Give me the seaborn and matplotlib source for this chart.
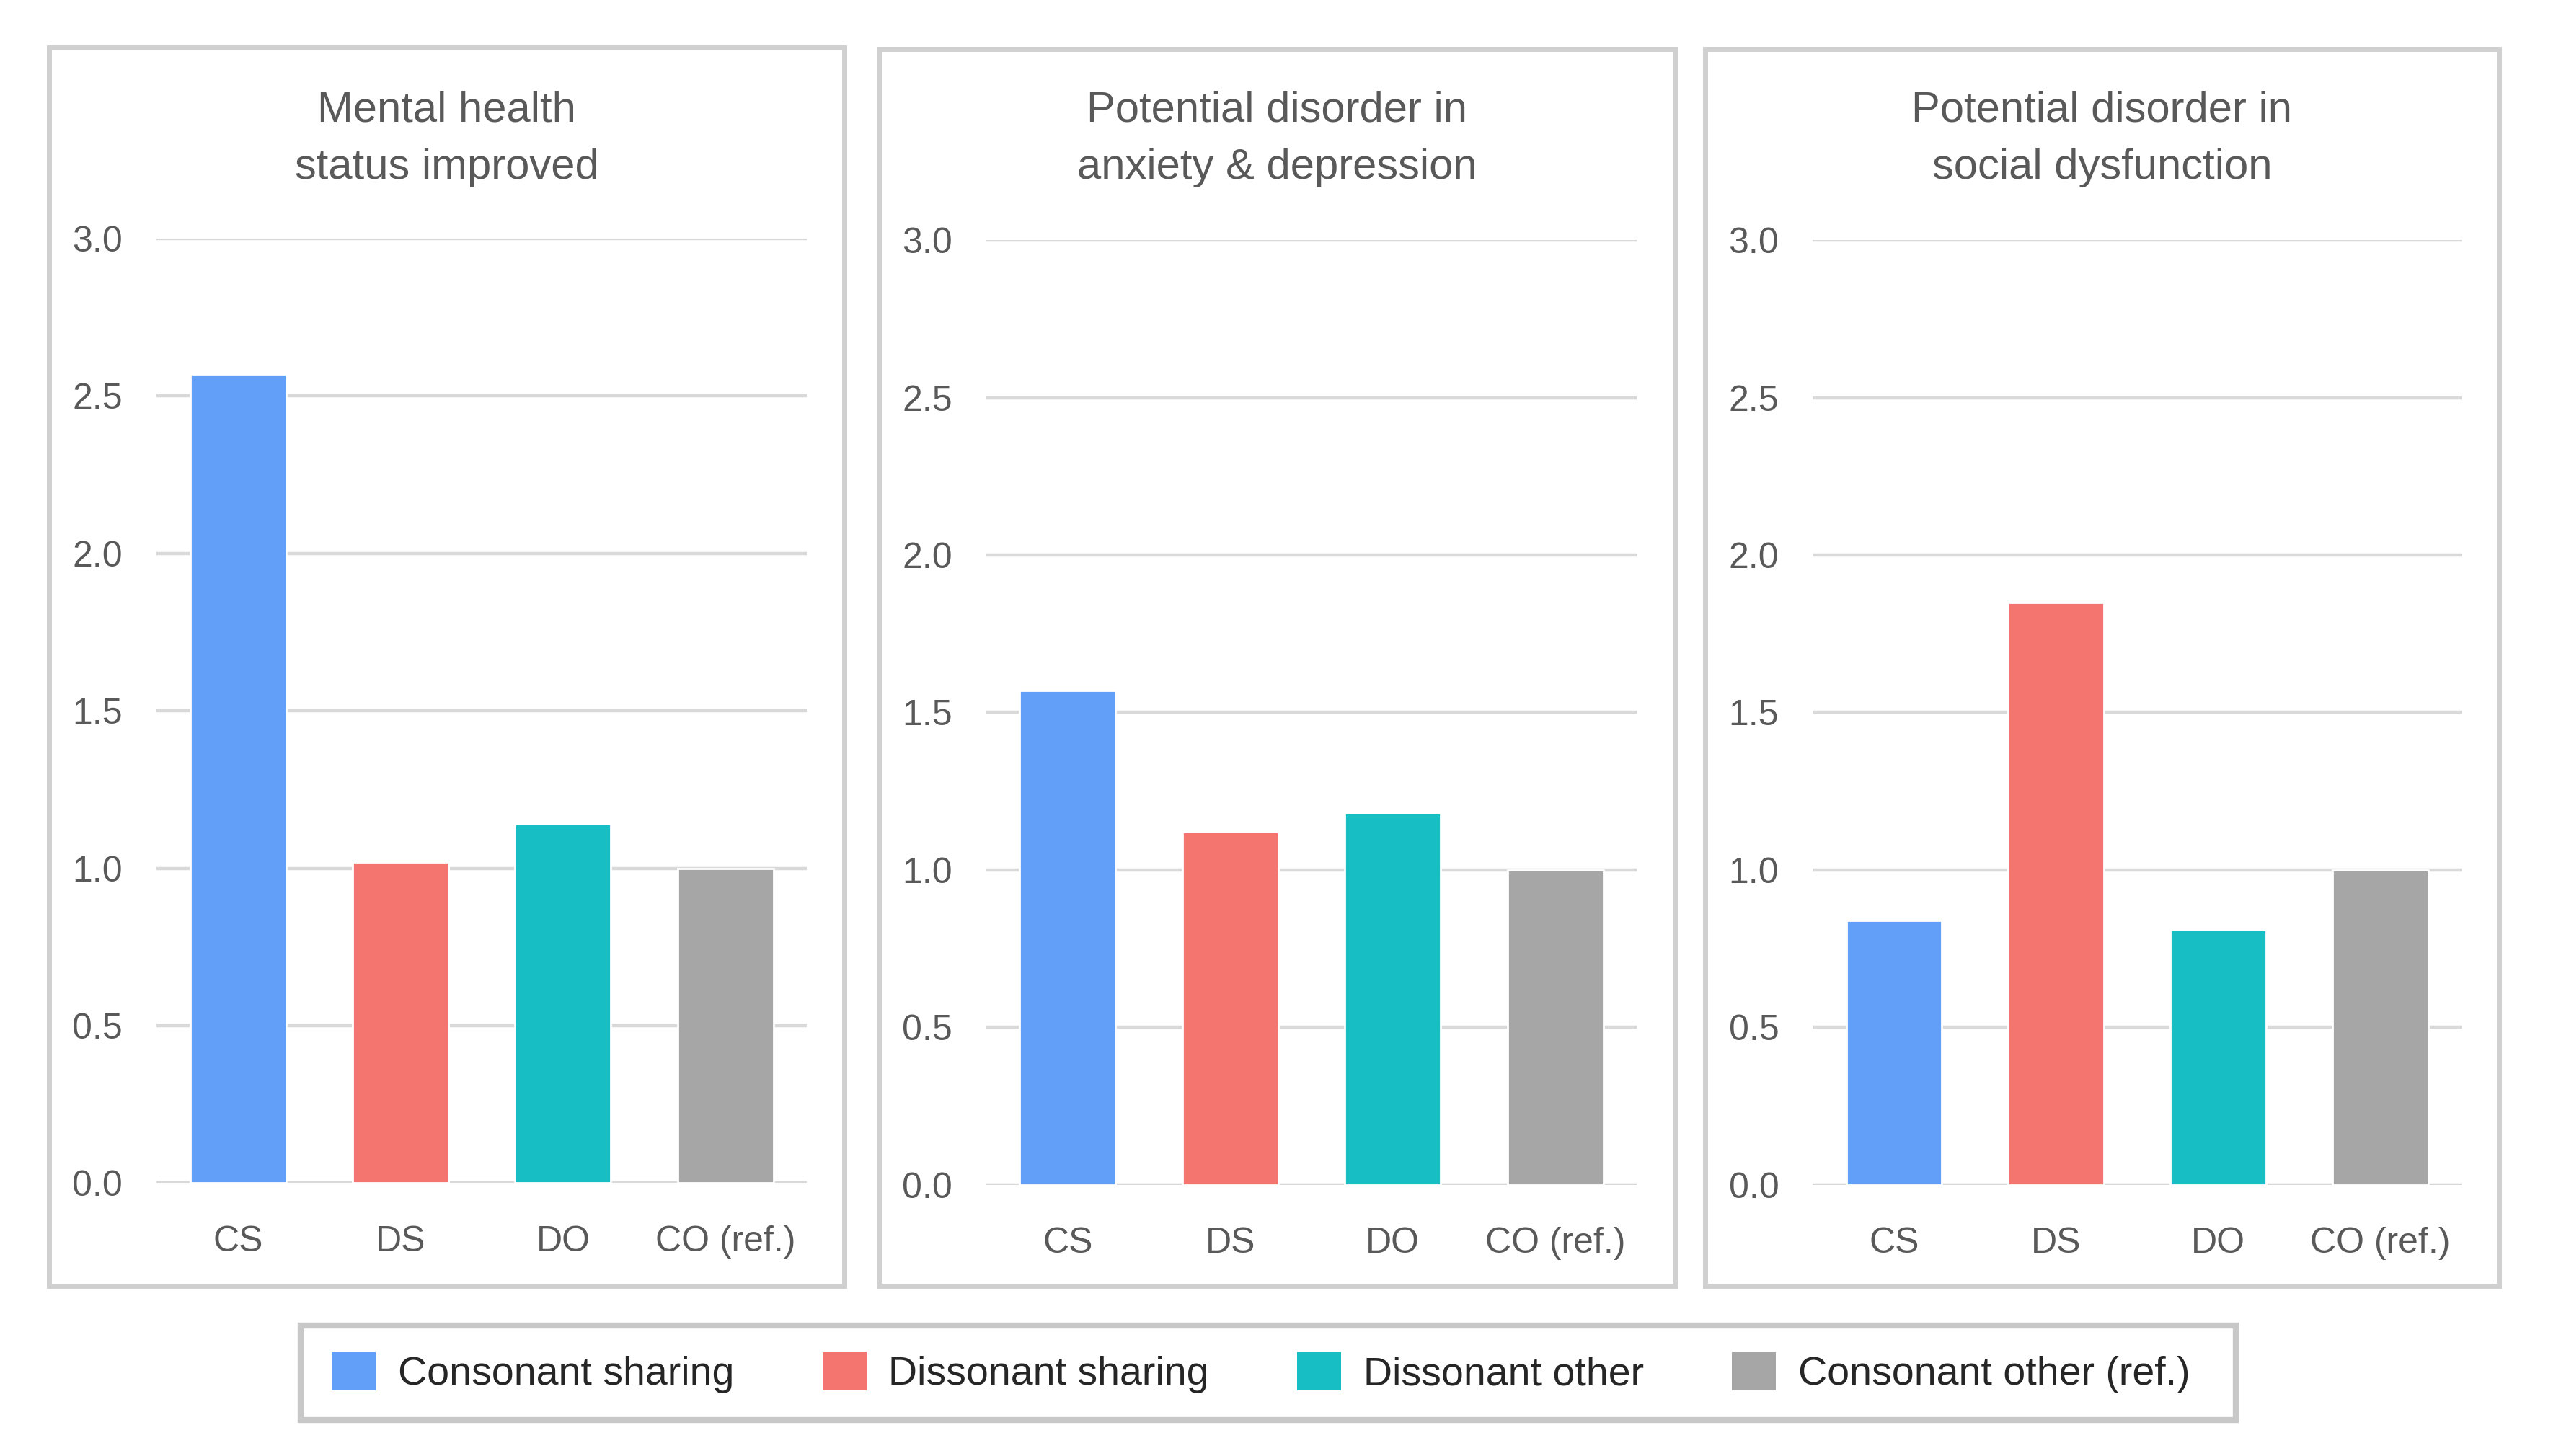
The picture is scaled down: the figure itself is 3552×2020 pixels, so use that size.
import matplotlib
matplotlib.use('Agg')
import matplotlib.pyplot as plt
import matplotlib.patches as mpatches
import seaborn as sns
import pandas as pd

# Datos
grupos = ['CS', 'DS', 'DO', 'CO (ref.)']
nombres_leyenda = ['Consonant sharing', 'Dissonant sharing', 'Dissonant other', 'Consonant other (ref.)']
titulos = ['Mental health\nstatus improved',
           'Potential disorder in\nanxiety & depression',
           'Potential disorder in\nsocial dysfunction']
mental_health = [2.57, 1.02, 1.14, 1.00]
ansiedad_depresion = [1.57, 1.12, 1.18, 1.00]
disfuncion_social = [0.84, 1.85, 0.81, 1.00]
colores = ['#619ff8', '#f4756f', '#17bfc4', '#a6a6a6']

sns.set_theme(style='white')
plt.rcParams['font.family'] = ['Liberation Sans', 'DejaVu Sans']

W, H = 3552, 2020
DPI = 200
fig = plt.figure(figsize=(W / DPI, H / DPI), dpi=DPI)
fig.patch.set_facecolor('white')

gris_texto = '#595959'
gris_grid = '#d9d9d9'
# escala de la imagen de referencia (medida en pantalla) a píxeles reales
sx = W / 1568
sy = H / 891

# cajas de cada panel y posición de los ejes (coordenadas de la imagen de referencia)
cajas = [(30, 29, 517, 787), (538, 30, 1026, 787), (1044, 30, 1530, 787)]
ejes = [(96, 146, 494, 724), (604, 147, 1002, 725), (1110, 147, 1507, 725)]
series = [mental_health, ansiedad_depresion, disfuncion_social]

for caja, pos, valores, titulo in zip(cajas, ejes, series, titulos):
    x0, y0, x1, y1 = caja
    fig.patches.append(mpatches.Rectangle(
        (x0 * sx / W, 1 - y1 * sy / H), (x1 - x0) * sx / W, (y1 - y0) * sy / H,
        transform=fig.transFigure, fill=False, edgecolor='#d0d0d0', linewidth=2.5))

    a0, b0, a1, b1 = pos
    ax = fig.add_axes([a0 * sx / W, 1 - b1 * sy / H, (a1 - a0) * sx / W, (b1 - b0) * sy / H])
    df = pd.DataFrame({'grupo': grupos, 'valor': valores})
    sns.barplot(data=df, x='grupo', y='valor', hue='grupo', palette=colores,
                width=0.59, saturation=1, legend=False, ax=ax, zorder=3)
    ax.set_ylim(0, 3.0)
    ax.set_xlim(-0.5, 3.5)
    ax.set_yticks([0, 0.5, 1.0, 1.5, 2.0, 2.5, 3.0])
    ax.set_yticklabels([f'{v:.1f}' for v in ax.get_yticks()])
    ax.yaxis.grid(True, color=gris_grid, linewidth=1.6, zorder=0)
    ax.set_axisbelow(True)
    for s in ax.spines.values():
        s.set_visible(False)
    ax.tick_params(axis='both', length=0, labelsize=18, labelcolor=gris_texto)
    ax.tick_params(axis='y', pad=17)
    ax.tick_params(axis='x', pad=21)
    ax.set_xlabel('')
    ax.set_ylabel('')
    fig.text((x0 + x1) / 2 * sx / W, 1 - 85 * sy / H, titulo, ha='center', va='center',
             fontsize=21.5, color=gris_texto, linespacing=1.55)

# Leyenda
fig.patches.append(mpatches.Rectangle(
    (184 * sx / W, 1 - 869 * sy / H), (1369 - 184) * sx / W, (869 - 811) * sy / H,
    transform=fig.transFigure, fill=False, edgecolor='#c8c8c8', linewidth=3))
handles = [mpatches.Patch(facecolor=c, edgecolor='none') for c in colores]
fig.legend(handles, nombres_leyenda, loc='center', bbox_to_anchor=(772 * sx / W, 1 - 840 * sy / H),
           ncol=4, frameon=False, handlelength=1.1, handleheight=1.1,
           handletextpad=0.55, columnspacing=2.2,
           prop={'family': ['Liberation Sans', 'DejaVu Sans'], 'size': 20})

fig.savefig('out.png', dpi=DPI, facecolor='white')
